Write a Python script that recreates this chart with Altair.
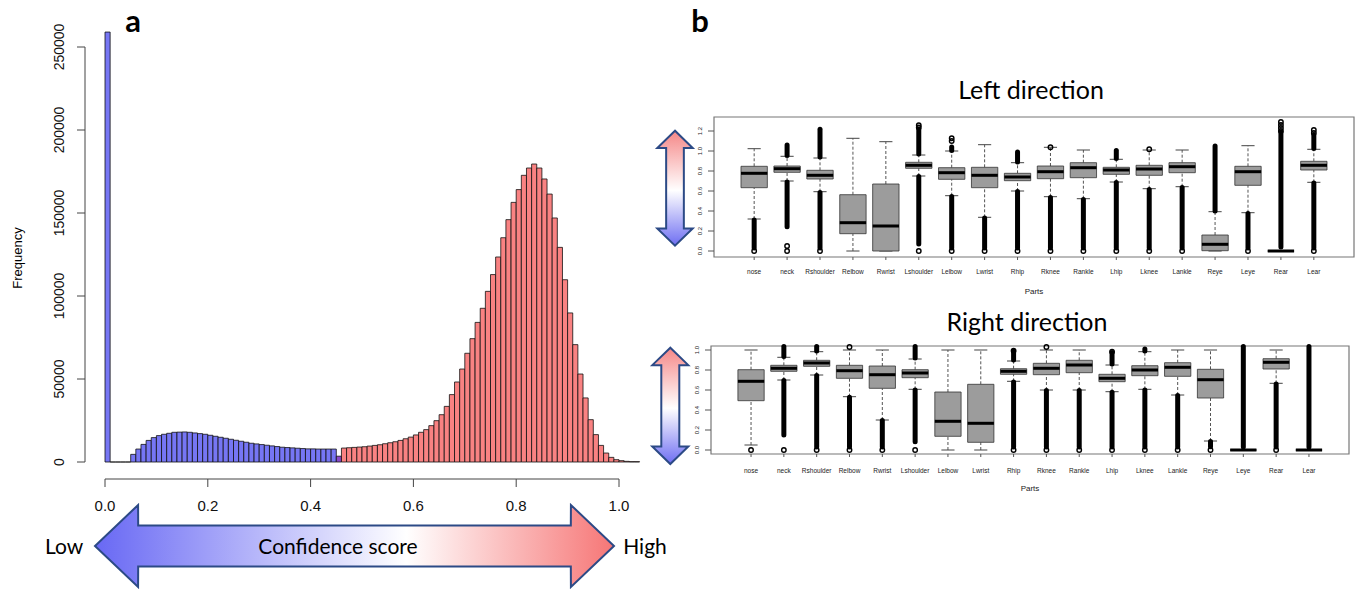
import altair as alt
import pandas as pd

# ---------------- panel a : histogram data ----------------
hist_freq = [
    259000, 0, 0, 0, 0,
    4600, 7800, 10600, 13000, 14700, 15900, 16700, 17300, 17900, 18000,
    18100, 17900, 17500, 17100, 16700, 16100, 15500, 14900, 14300, 13700,
    13100, 12500, 11900, 11300, 10900, 10500, 10100, 9700, 9300, 8900,
    8700, 8500, 8300, 8100, 7900, 7900, 7800, 7800, 7800, 7800,
    3500,
    8400, 8600, 8800, 9000, 9200, 9600, 10000, 10400, 11000, 11600,
    12200, 13000, 14000, 15000, 16300, 17900, 19500, 21900, 24900, 28500,
    33500, 40600, 48200, 56000, 65500, 74300, 84100, 92600, 102800, 112900,
    123500, 135100, 146000, 156400, 164100, 172700, 177100, 179500, 177100, 170500,
    161400, 147000, 129300, 109800, 89800, 70700, 53000, 38600, 25500, 16500,
    10000, 5400, 2800, 1400, 800, 400, 200, 200,
]
hist_group = ["low"] * 45 + ["mix"] + ["high"] * 58
bin_width = 0.01
hist_ticks_x = [0.0, 0.2, 0.4, 0.6, 0.8, 1.0]
hist_ticks_y = [0, 50000, 100000, 150000, 200000, 250000]

# ---------------- panel b : box plot data ----------------
parts = ["nose", "neck", "Rshoulder", "Relbow", "Rwrist", "Lshoulder", "Lelbow", "Lwrist",
         "Rhip", "Rknee", "Rankle", "Lhip", "Lknee", "Lankle", "Reye", "Leye", "Rear", "Lear"]

left_lw = [0.32, 0.70, 0.593, 0.0, 0.0, 0.75, 0.553, 0.337, 0.60, 0.543, 0.523, 0.69, 0.623, 0.643, 0.0, 0.383, 0.0, 0.687]
left_q1 = [0.633, 0.787, 0.72, 0.173, 0.0, 0.827, 0.717, 0.633, 0.703, 0.723, 0.733, 0.767, 0.757, 0.783, 0.003, 0.657, 0.0, 0.81]
left_med = [0.777, 0.823, 0.757, 0.283, 0.25, 0.857, 0.783, 0.757, 0.74, 0.793, 0.833, 0.81, 0.82, 0.843, 0.067, 0.793, 0.0, 0.857]
left_q3 = [0.847, 0.85, 0.807, 0.563, 0.67, 0.887, 0.833, 0.837, 0.777, 0.85, 0.883, 0.837, 0.857, 0.883, 0.16, 0.847, 0.0, 0.897]
left_uw = [1.023, 0.947, 0.93, 1.127, 1.093, 0.96, 1.0, 1.063, 0.883, 1.037, 1.01, 0.917, 1.01, 1.01, 0.393, 1.053, 0.0, 1.017]
left_lo_top = [0.31, 0.69, 0.585, None, None, 0.745, 0.545, 0.33, 0.595, 0.535, 0.515, 0.685, 0.615, 0.635, None, 0.375, None, 0.68]
left_lo_bot = [0.03, 0.243, 0.03, None, None, 0.07, 0.03, 0.03, 0.03, 0.03, 0.03, 0.03, 0.03, 0.03, None, 0.03, None, 0.03]
left_hi_bot = [None, 0.955, 0.94, None, None, 0.97, 1.005, None, 0.89, None, None, 0.925, None, None, 0.40, None, 0.04, 1.025]
left_hi_top = [None, 1.06, 1.217, None, None, 1.22, 1.04, None, 0.99, None, None, 1.005, None, None, 1.05, None, 1.19, 1.16]
left_pts_i = [1, 2, 2, 3, 6, 6, 6, 7, 7, 7, 8, 9, 10, 10, 11, 12, 13, 13, 14, 16, 17, 17, 17, 17, 18, 18, 18]
left_pts_v = [0.0, 0.05, 0.0, 0.0, 0.0, 1.257, 1.235, 0.0, 1.127, 1.10, 0.0, 0.0, 0.0, 1.037, 0.0, 0.0, 0.0, 1.017,
              0.0, 0.0, 1.29, 1.26, 1.23, 1.20, 0.0, 1.21, 1.18]

right_lw = [0.05, 0.70, 0.75, 0.533, 0.30, 0.607, 0.0, 0.0, 0.687, 0.60, 0.60, 0.583, 0.607, 0.55, 0.09, 0.0, 0.667, 0.0]
right_q1 = [0.493, 0.787, 0.837, 0.717, 0.617, 0.723, 0.137, 0.077, 0.757, 0.753, 0.773, 0.683, 0.743, 0.737, 0.52, 0.0, 0.81, 0.0]
right_med = [0.687, 0.817, 0.87, 0.793, 0.753, 0.77, 0.287, 0.267, 0.787, 0.817, 0.85, 0.717, 0.80, 0.827, 0.703, 0.0, 0.877, 0.0]
right_q3 = [0.803, 0.847, 0.897, 0.847, 0.84, 0.803, 0.58, 0.657, 0.813, 0.867, 0.897, 0.757, 0.843, 0.873, 0.807, 0.0, 0.913, 0.0]
right_uw = [1.0, 0.927, 0.983, 1.0, 1.0, 0.91, 1.0, 1.0, 0.89, 1.0, 1.0, 0.85, 0.983, 1.0, 1.0, 0.0, 1.0, 0.0]
right_lo_top = [None, 0.695, 0.745, 0.528, 0.295, 0.60, None, None, 0.68, 0.595, 0.595, 0.578, 0.60, 0.545, 0.085, None, 0.66, None]
right_lo_bot = [None, 0.15, 0.03, 0.03, 0.03, 0.083, None, None, 0.03, 0.03, 0.03, 0.03, 0.03, 0.03, 0.033, None, 0.03, None]
right_hi_bot = [None, 0.935, 0.99, None, None, 0.92, None, None, 0.90, None, None, 0.86, 0.99, None, None, 0.03, None, 0.03]
right_hi_top = [None, 1.035, 1.035, None, None, 1.035, None, None, 0.99, None, None, 0.975, 1.01, None, None, 1.035, None, 1.035]
right_pts_i = [1, 2, 3, 4, 4, 5, 6, 9, 9, 10, 10, 11, 12, 12, 13, 14, 15, 17]
right_pts_v = [0.0, 0.0, 0.0, 0.0, 1.03, 0.0, 0.0, 0.0, 0.993, 0.0, 1.03, 0.0, 0.0, 0.983, 0.0, 0.0, 0.0, 0.0]

left_yticks = [0.0, 0.2, 0.4, 0.6, 0.8, 1.0, 1.2]
right_yticks = [0.0, 0.2, 0.4, 0.6, 0.8, 1.0]

# arrow outline (along-length position, half-width) - decorative shapes
arrow_h_u = [0, 0.083, 0.0832, 0.9168, 0.917, 1]
arrow_v_u = [0, 0.15, 0.1502, 0.8498, 0.85, 1]
arrow_w = [0, 1, 0.5, 0.5, 1, 0]

# ---------------- helpers ----------------
FONT = "Liberation Sans"
TFONT = "Lato"


def S(domain, rng):
    return alt.Scale(domain=domain, range=rng, nice=False, zero=False)


def txt(s, x, y, size, font=TFONT, weight="normal", angle=0, align="center", baseline="middle", color="black"):
    return alt.Chart(pd.DataFrame({"t": [s]})).mark_text(
        font=font, fontSize=size, fontWeight=weight, angle=angle, align=align,
        baseline=baseline, color=color
    ).encode(x=alt.value(x), y=alt.value(y), text="t:N")


layers = []

# ---------------- histogram ----------------
HX = S([0, 1], [105, 619])
HY = S([0, 250000], [462, 47])
hist_df = pd.DataFrame({
    "x0": [round(i * bin_width, 2) for i in range(len(hist_freq))],
    "f": hist_freq,
    "g": hist_group,
})
layers.append(
    alt.Chart(hist_df).transform_calculate(x1=f"datum.x0 + {bin_width}", z="0")
    .mark_bar(stroke="#111", strokeWidth=0.8)
    .encode(
        x=alt.X("x0:Q", scale=HX, axis=None), x2="x1:Q",
        y=alt.Y("f:Q", scale=HY, axis=None), y2="z:Q",
        color=alt.Color("g:N", scale=alt.Scale(domain=["low", "mix", "high"],
                                               range=["#7676f4", "#8a48c8", "#f98282"]), legend=None),
    )
)
# x axis
xt = pd.DataFrame({"v": hist_ticks_x, "lab": [f"{v:.1f}" for v in hist_ticks_x]})
layers.append(alt.Chart(pd.DataFrame({"a": [hist_ticks_x[0]], "b": [hist_ticks_x[-1]]})).mark_rule(color="#444", strokeWidth=1)
              .encode(x=alt.X("a:Q", scale=HX, axis=None), x2="b:Q", y=alt.value(479)))
layers.append(alt.Chart(xt).mark_rule(color="#444", strokeWidth=1)
              .encode(x=alt.X("v:Q", scale=HX, axis=None), y=alt.value(479), y2=alt.value(487)))
layers.append(alt.Chart(xt).mark_text(font=FONT, fontSize=15, color="#111")
              .encode(x=alt.X("v:Q", scale=HX, axis=None), y=alt.value(506), text="lab:N"))
# y axis
yt = pd.DataFrame({"v": hist_ticks_y, "lab": [str(v) for v in hist_ticks_y]})
layers.append(alt.Chart(pd.DataFrame({"a": [hist_ticks_y[0]], "b": [hist_ticks_y[-1]]})).mark_rule(color="#444", strokeWidth=1)
              .encode(y=alt.Y("a:Q", scale=HY, axis=None), y2="b:Q", x=alt.value(85)))
layers.append(alt.Chart(yt).mark_rule(color="#444", strokeWidth=1)
              .encode(y=alt.Y("v:Q", scale=HY, axis=None), x=alt.value(77), x2=alt.value(85)))
layers.append(alt.Chart(yt).mark_text(font=FONT, fontSize=14, angle=270, color="#111")
              .encode(y=alt.Y("v:Q", scale=HY, axis=None), x=alt.value(60), text="lab:N"))
layers.append(txt("Frequency", 18, 258, 13, font=FONT, angle=270))
layers.append(txt("a", 133, 32, 31, weight="bold", baseline="alphabetic"))
layers.append(txt("b", 700, 32, 31, weight="bold", baseline="alphabetic"))

# horizontal arrow
ah = pd.DataFrame({"u": arrow_h_u, "lo": [-w for w in arrow_w], "hi": arrow_w})
layers.append(
    alt.Chart(ah).mark_area(
        orient="vertical", stroke="#2c4a86", strokeWidth=2, strokeJoin="miter",
        fill=alt.LinearGradient(gradient="linear", x1=0, x2=1, y1=0, y2=0, stops=[
            alt.GradientStop(color="#6868f4", offset=0),
            alt.GradientStop(color="#ffffff", offset=0.6),
            alt.GradientStop(color="#f67676", offset=1)]),
        fillOpacity=1,
    ).encode(
        x=alt.X("u:Q", scale=S([0, 1], [95, 614]), axis=None),
        y=alt.Y("lo:Q", scale=S([-1, 1], [587, 505]), axis=None), y2="hi:Q",
    )
)
layers.append(txt("Low", 64, 548, 21))
layers.append(txt("High", 645, 548, 21))
layers.append(txt("Confidence score", 338, 548, 21))


def vertical_arrow(ytop, ybot, xl, xr):
    av = pd.DataFrame({"u": arrow_v_u, "lo": [-w for w in arrow_w], "hi": arrow_w})
    return alt.Chart(av).mark_area(
        orient="horizontal", stroke="#2c4a86", strokeWidth=2, strokeJoin="miter",
        fill=alt.LinearGradient(gradient="linear", x1=0, x2=0, y1=0, y2=1, stops=[
            alt.GradientStop(color="#f58787", offset=0),
            alt.GradientStop(color="#ffffff", offset=0.52),
            alt.GradientStop(color="#6e6ef2", offset=1)]),
        fillOpacity=1,
    ).encode(
        y=alt.Y("u:Q", scale=S([0, 1], [ybot, ytop]), axis=None),
        x=alt.X("lo:Q", scale=S([-1, 1], [xl, xr]), axis=None), x2="hi:Q",
    )


layers.append(vertical_arrow(130.7, 245.7, 657.3, 692.7))
layers.append(vertical_arrow(347.7, 464, 652.3, 688.3))


# ---------------- box panels ----------------
def box_panel(lw, q1, med, q3, uw, lot, lob, hib, hit, pi, pv, yticks,
              xpx, ypx, ydom, title, title_y, lab_y, parts_y):
    out = []
    XDOM = [-0.22, 19.22]
    BX = S(XDOM, xpx)
    BY = S([0, 1], ypx)
    y_bottom = ypx[0] + (ypx[0] - ypx[1]) * (-ydom[0])
    df = pd.DataFrame({"i": list(range(1, 19)), "part": parts, "lw": lw, "q1": q1, "med": med,
                       "q3": q3, "uw": uw, "lot": lot, "lob": lob, "hib": hib, "hit": hit})
    X = lambda f: alt.X(f, scale=BX, axis=None)
    Y = lambda f: alt.Y(f, scale=BY, axis=None)
    base = alt.Chart(df)
    out.append(alt.Chart(pd.DataFrame({"a": [XDOM[0]], "b": [XDOM[1]], "c": [ydom[0]], "d": [ydom[1]]}))
               .mark_rect(fillOpacity=0, stroke="#777", strokeWidth=1.2)
               .encode(x=X("a:Q"), x2="b:Q", y=Y("c:Q"), y2="d:Q"))
    out.append(base.mark_rule(color="#555", strokeWidth=1, strokeDash=[3, 2])
               .encode(x=X("i:Q"), y=Y("lw:Q"), y2="q1:Q"))
    out.append(base.mark_rule(color="#555", strokeWidth=1, strokeDash=[3, 2])
               .encode(x=X("i:Q"), y=Y("q3:Q"), y2="uw:Q"))
    caps = base.transform_calculate(a="datum.i - 0.2", b="datum.i + 0.2")
    out.append(caps.mark_rule(color="#444", strokeWidth=1).encode(x=X("a:Q"), x2="b:Q", y=Y("lw:Q")))
    out.append(caps.mark_rule(color="#444", strokeWidth=1).encode(x=X("a:Q"), x2="b:Q", y=Y("uw:Q")))
    boxes = base.transform_calculate(a="datum.i - 0.4", b="datum.i + 0.4")
    out.append(boxes.mark_rect(fill="#9c9c9c", stroke="#333", strokeWidth=0.8)
               .encode(x=X("a:Q"), x2="b:Q", y=Y("q1:Q"), y2="q3:Q"))
    out.append(boxes.mark_rule(color="black", strokeWidth=3)
               .encode(x=X("a:Q"), x2="b:Q", y=Y("med:Q")))
    out.append(base.transform_filter("isValid(datum.lot)")
               .mark_rule(color="black", strokeWidth=5, strokeCap="round")
               .encode(x=X("i:Q"), y=Y("lob:Q"), y2="lot:Q"))
    out.append(base.transform_filter("isValid(datum.hit)")
               .mark_rule(color="black", strokeWidth=5, strokeCap="round")
               .encode(x=X("i:Q"), y=Y("hib:Q"), y2="hit:Q"))
    out.append(alt.Chart(pd.DataFrame({"i": pi, "v": pv}))
               .mark_point(shape="circle", filled=False, size=20, color="black", strokeWidth=1.4, opacity=1)
               .encode(x=X("i:Q"), y=Y("v:Q")))
    # x axis ticks & labels
    out.append(base.mark_rule(color="#555", strokeWidth=1)
               .encode(x=X("i:Q"), y=alt.value(y_bottom), y2=alt.value(y_bottom + 3)))
    out.append(base.mark_text(font=FONT, fontSize=6.5, color="#222")
               .encode(x=X("i:Q"), y=alt.value(lab_y), text="part:N"))
    # y axis ticks & labels
    ytdf = pd.DataFrame({"v": yticks, "lab": [f"{v:.1f}" for v in yticks]})
    out.append(alt.Chart(ytdf).mark_rule(color="#555", strokeWidth=1)
               .encode(y=Y("v:Q"), x=alt.value(xpx[0] - 6), x2=alt.value(xpx[0])))
    out.append(alt.Chart(ytdf).mark_text(font=FONT, fontSize=6, angle=270, color="#222")
               .encode(y=Y("v:Q"), x=alt.value(xpx[0] - 14), text="lab:N"))
    out.append(txt("Parts", (xpx[0] + xpx[1]) / 2, parts_y, 8, font=FONT, color="#222"))
    out.append(txt(title, (xpx[0] + xpx[1]) / 2 - 3, title_y, 25, baseline="alphabetic"))
    return out


layers += box_panel(left_lw, left_q1, left_med, left_q3, left_uw, left_lo_top, left_lo_bot,
                    left_hi_bot, left_hi_top, left_pts_i, left_pts_v, left_yticks,
                    [714, 1354], [251, 151], [-0.06, 1.34], "Left direction", 99, 272, 292)
layers += box_panel(right_lw, right_q1, right_med, right_q3, right_uw, right_lo_top, right_lo_bot,
                    right_hi_bot, right_hi_top, right_pts_i, right_pts_v, right_yticks,
                    [711, 1349], [450, 350], [-0.04, 1.04], "Right direction", 331, 471, 489)

chart = (
    alt.layer(*layers)
    .resolve_scale(x="independent", y="independent")
    .properties(width=1361, height=590, padding=0,
                autosize=alt.AutoSizeParams(type="none"), background="white")
    .configure_view(stroke=None)
)

chart.save("out.html", embed_options={"renderer": "svg", "actions": False})
